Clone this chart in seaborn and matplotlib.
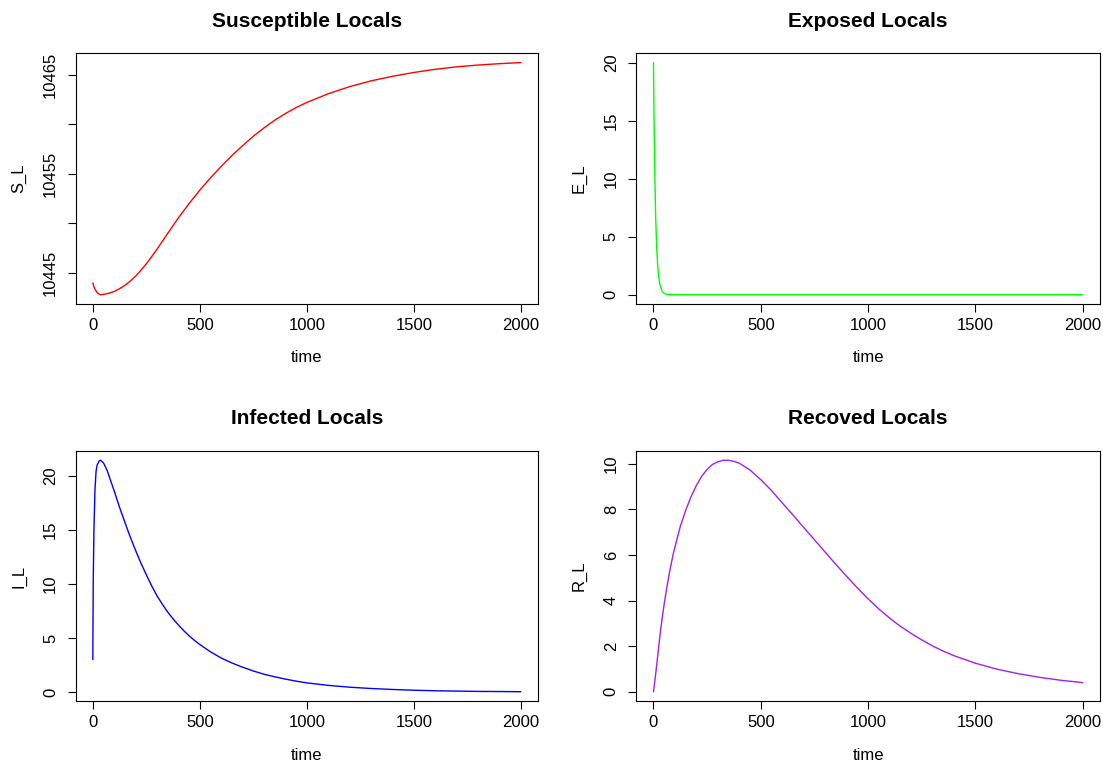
import matplotlib
matplotlib.use("Agg")
import matplotlib.pyplot as plt
import seaborn as sns
import pandas as pd

# ---------------- data ----------------
t_S = [0, 5, 10, 15, 20, 25, 30, 36, 50, 75, 100, 125, 150, 175, 200, 225, 250,
       275, 300, 350, 400, 450, 500, 550, 600, 650, 700, 750, 800, 850, 900,
       950, 1000, 1100, 1200, 1300, 1400, 1500, 1600, 1700, 1800, 1900, 2000]
S_L = [10443.96, 10443.6, 10443.35, 10443.15, 10443.0, 10442.9, 10442.82,
       10442.77, 10442.8, 10442.92, 10443.1, 10443.38, 10443.72, 10444.15,
       10444.65, 10445.25, 10445.9, 10446.62, 10447.38, 10448.98, 10450.55,
       10452.0, 10453.35, 10454.6, 10455.75, 10456.85, 10457.85, 10458.8,
       10459.65, 10460.42, 10461.1, 10461.7, 10462.22, 10463.1, 10463.82,
       10464.4, 10464.86, 10465.25, 10465.57, 10465.82, 10466.0, 10466.14,
       10466.25]

t_E = [0, 2, 5, 10, 15, 20, 25, 30, 40, 50, 60, 75, 100, 200, 500, 1000, 1500, 2000]
E_L = [20.0, 16.2, 11.6, 6.8, 4.0, 2.4, 1.45, 0.88, 0.30, 0.11, 0.04, 0.01,
       0.0, 0.0, 0.0, 0.0, 0.0, 0.0]

t_I = [0, 1, 2, 5, 10, 15, 20, 30, 36, 50, 67, 100, 125, 150, 175, 200, 225,
       250, 275, 300, 325, 350, 375, 400, 425, 450, 475, 500, 550, 600, 650,
       700, 750, 800, 850, 900, 950, 1000, 1100, 1200, 1300, 1400, 1500, 1600,
       1700, 1800, 1900, 2000]
I_L = [3.0, 7.0, 10.3, 14.8, 18.7, 20.4, 21.0, 21.4, 21.45, 21.2, 20.5, 18.6,
       17.09, 15.7, 14.34, 13.1, 11.92, 10.85, 9.83, 8.9, 8.12, 7.4, 6.77, 6.2,
       5.68, 5.2, 4.78, 4.4, 3.72, 3.15, 2.69, 2.3, 1.95, 1.65, 1.41, 1.2,
       1.01, 0.85, 0.62, 0.45, 0.33, 0.24, 0.17, 0.12, 0.09, 0.06, 0.05, 0.03]

t_R = [0, 10, 20, 30, 40, 50, 60, 75, 90, 100, 125, 150, 175, 200, 225, 250,
       275, 300, 325, 350, 375, 400, 450, 500, 550, 600, 650, 700, 750, 800,
       850, 900, 950, 1000, 1050, 1100, 1150, 1200, 1250, 1300, 1350, 1400,
       1500, 1600, 1700, 1800, 1900, 2000]
R_L = [0.0, 0.75, 1.6, 2.45, 3.2, 3.85, 4.45, 5.25, 5.95, 6.35, 7.25, 7.95,
       8.55, 9.05, 9.45, 9.75, 9.97, 10.08, 10.15, 10.15, 10.1, 10.02, 9.72,
       9.3, 8.82, 8.28, 7.75, 7.2, 6.66, 6.12, 5.58, 5.06, 4.55, 4.07, 3.63,
       3.23, 2.87, 2.56, 2.27, 2.01, 1.78, 1.58, 1.25, 0.99, 0.79, 0.63, 0.5,
       0.40]

titles = ["Susceptible Locals", "Exposed Locals", "Infected Locals", "Recoved Locals"]
ylabels = ["S_L", "E_L", "I_L", "R_L"]
colors = ["#FF0000", "#00FF00", "#0000FF", "#A020F0"]
xticks = [0, 500, 1000, 1500, 2000]
yticks = [[10445, 10450, 10455, 10460, 10465], [0, 5, 10, 15, 20],
          [0, 5, 10, 15, 20], [0, 2, 4, 6, 8, 10]]
ytick_labels = [["10445", "", "10455", "", "10465"], ["0", "5", "10", "15", "20"],
                ["0", "5", "10", "15", "20"], ["0", "2", "4", "6", "8", "10"]]

# ---------------- style ----------------
sns.set_theme(style="ticks")
plt.rcParams["font.family"] = ["Liberation Sans", "DejaVu Sans"]
plt.rcParams["axes.linewidth"] = 0.8
plt.rcParams["axes.edgecolor"] = "black"

W, H = 1103, 765
fig = plt.figure(figsize=(W / 100, H / 100), dpi=100)
fig.patch.set_facecolor("white")

# axes boxes in pixels: (left, top, right, bottom)
boxes = [(75.7, 53.3, 538, 304), (636.3, 53.3, 1100, 304),
         (75.7, 451, 538, 701), (636.3, 451, 1100, 701)]

series = [(t_S, S_L), (t_E, E_L), (t_I, I_L), (t_R, R_L)]

for i, ((tx, vy), (l, t, r, b)) in enumerate(zip(series, boxes)):
    ax = fig.add_axes([l / W, 1 - b / H, (r - l) / W, (b - t) / H])
    df = pd.DataFrame({"time": tx, "val": vy})
    sns.lineplot(data=df, x="time", y="val", ax=ax, color=colors[i],
                 linewidth=1.0, sort=False, estimator=None)
    ax.margins(x=0.04, y=0.04)
    w_px, h_px = r - l, b - t
    ax.set_xticks(xticks, [str(v) for v in xticks])
    ax.set_yticks(yticks[i], ytick_labels[i])
    ax.tick_params(axis="both", length=5.8, width=0.8, color="black",
                   labelsize=12, labelcolor="black")
    ax.tick_params(axis="x", pad=10.0)
    ax.tick_params(axis="y", pad=12.2)
    for lab in ax.get_xticklabels():
        lab.set_verticalalignment("center")
    for lab in ax.get_yticklabels():
        lab.set_rotation(90)
        lab.set_horizontalalignment("center")
        lab.set_verticalalignment("center")
    ax.set_xlabel("time", fontsize=12, va="center", color="black")
    ax.xaxis.set_label_coords(0.5, -54.0 / h_px)
    ax.set_ylabel(ylabels[i], fontsize=12, va="center", color="black")
    ax.yaxis.set_label_coords(-57.0 / w_px, 0.5)
    ax.set_title(titles[i], fontsize=15, fontweight="bold", pad=0,
                 y=1 + 32.0 / h_px, va="center", color="black")
    for sp in ax.spines.values():
        sp.set_visible(True)
        sp.set_color("black")
        sp.set_linewidth(0.8)
    ax.set_facecolor("white")
    ax.grid(False)

fig.savefig("out.png", dpi=100, facecolor="white")
